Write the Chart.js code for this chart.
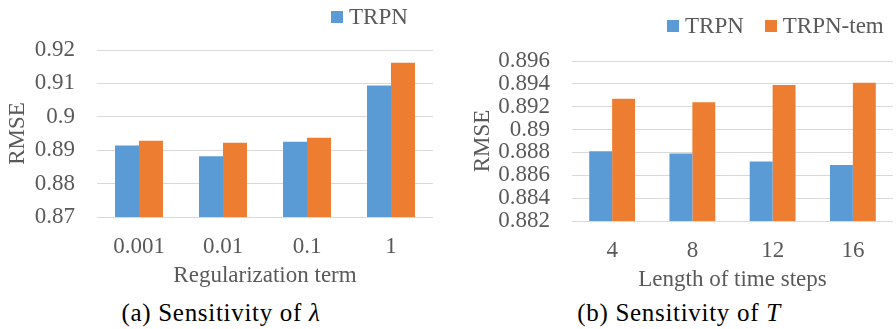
<!DOCTYPE html>
<html>
<head>
<meta charset="utf-8">
<script src="https://cdn.jsdelivr.net/npm/chart.js@4"></script>
<style>
  body { margin: 0; background: #fff; width: 896px; height: 329px; overflow: hidden; position: relative; }
  .panel { position: absolute; }
  .legend { position: absolute; display: flex; align-items: center; font-family: "Liberation Serif"; font-size: 23px; color: #595959; white-space: nowrap; line-height: 1; }
  .legend .item { display: flex; align-items: center; margin-right: 21px; }
  .legend .box { width: 12px; height: 12px; margin-right: 6px; }
  .cap { position: absolute; font-family: "Liberation Serif"; font-size: 25px; letter-spacing: 0.7px; color: #000; white-space: nowrap; transform: translateX(-50%); }
</style>
</head>
<body>
<div class="panel" style="left:0;top:0"><canvas id="chartA" width="440" height="290"></canvas></div>
<div class="panel" style="left:440px;top:0"><canvas id="chartB" width="456" height="294"></canvas></div>
<div class="legend" id="legendA" style="left:331px;top:5px"></div>
<div class="legend" id="legendB" style="left:667px;top:14px"></div>
<div class="cap" style="left:221px;top:299px">(a) Sensitivity of <i>λ</i></div>
<div class="cap" style="left:679px;top:299px">(b) Sensitivity of <i>T</i></div>
<script>
// (a) regularization term lambda
const lambdaLabels = ['0.001', '0.01', '0.1', '1'];
const lambdaTRPN = [0.8914, 0.8882, 0.8925, 0.9094];
const lambdaTRPNtem = [0.8928, 0.8922, 0.8937, 0.9162];
const lambdaTicks = [0.87, 0.88, 0.89, 0.90, 0.91, 0.92];

// (b) length of time steps T
const stepLabels = ['4', '8', '12', '16'];
const stepTRPN = [0.8881, 0.8879, 0.8872, 0.8869];
const stepTRPNtem = [0.8927, 0.8924, 0.8939, 0.8941];
const stepTicks = [0.882, 0.884, 0.886, 0.888, 0.890, 0.892, 0.894, 0.896];

const BLUE = '#5B9BD5';
const ORANGE = '#ED7D31';
const GREY = '#595959';
const font = () => ({ family: "'Liberation Serif', 'Times New Roman', serif", size: 23 });

function makeChart(id, labels, a, b, ticks, xTitle, pad, yWidth) {
  return new Chart(document.getElementById(id), {
    type: 'bar',
    data: {
      labels: labels,
      datasets: [
        { label: 'TRPN', data: a, backgroundColor: BLUE },
        { label: 'TRPN-tem', data: b, backgroundColor: ORANGE }
      ]
    },
    options: {
      responsive: false,
      animation: false,
      layout: { padding: pad },
      datasets: { bar: { categoryPercentage: 0.571, barPercentage: 1 } },
      plugins: { legend: { display: false }, tooltip: { enabled: false } },
      scales: {
        x: {
          grid: { display: false },
          border: { display: false },
          ticks: { color: GREY, font: font(), padding: 8 },
          title: { display: true, text: xTitle, color: GREY, font: font(), padding: { top: 0, bottom: 0 } },
          afterFit: s => { s.height = 73; }
        },
        y: {
          min: ticks[0],
          max: ticks[ticks.length - 1],
          afterBuildTicks: s => { s.ticks = ticks.map(v => ({ value: v })); },
          grid: { color: '#d9d9d9', drawTicks: false },
          border: { display: false },
          ticks: { color: GREY, font: font(), padding: 22, autoSkip: false,
                   callback: v => String(parseFloat(v.toFixed(3))) },
          title: { display: true, text: 'RMSE', color: GREY, font: font() },
          afterFit: s => { s.width = yWidth; }
        }
      }
    }
  });
}

function htmlLegend(chart, el, count) {
  chart.data.datasets.slice(0, count).forEach(ds => {
    const item = document.createElement('div');
    item.className = 'item';
    const box = document.createElement('span');
    box.className = 'box';
    box.style.background = ds.backgroundColor;
    const txt = document.createElement('span');
    txt.textContent = ds.label;
    item.appendChild(box);
    item.appendChild(txt);
    el.appendChild(item);
  });
}

const chartA = makeChart('chartA', lambdaLabels, lambdaTRPN, lambdaTRPNtem, lambdaTicks,
  'Regularization term', { top: 50, right: 7, left: 0, bottom: 0 }, 97);
const chartB = makeChart('chartB', stepLabels, stepTRPN, stepTRPNtem, stepTicks,
  'Length of time steps', { top: 61, right: 3, left: 25, bottom: 0 }, 107);

// left legend is cut off in the original figure: only the first entry shows
htmlLegend(chartA, document.getElementById('legendA'), 1);
htmlLegend(chartB, document.getElementById('legendB'), 2);
</script>
</body>
</html>
